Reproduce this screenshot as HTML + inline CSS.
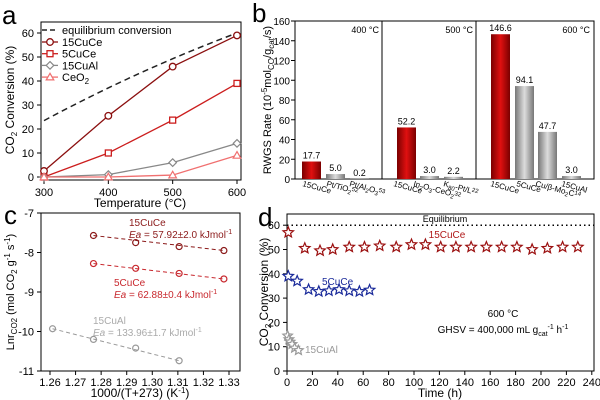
<!DOCTYPE html>
<html><head><meta charset="utf-8"><style>
body{margin:0;background:#fff;}
svg{display:block;font-family:"Liberation Sans",Arial,sans-serif;}
</style></head><body>
<svg id="s" width="600" height="400" viewBox="0 0 600 400" xmlns="http://www.w3.org/2000/svg"></svg>
<script>
const s=document.getElementById('s');let h='';
function T(x,y,t,sz,opt){opt=opt||{};h+=`<text x="${x}" y="${y}" font-size="${sz}" fill="${opt.c||'#000'}" text-anchor="${opt.a||'start'}" ${opt.tr?`transform="${opt.tr}"`:''} ${opt.w?'font-weight="bold"':''}>${t}</text>`;}
function L(x1,y1,x2,y2,c,w,d){h+=`<line x1="${x1}" y1="${y1}" x2="${x2}" y2="${y2}" stroke="${c||'#000'}" stroke-width="${w||1}" ${d?`stroke-dasharray="${d}"`:''}/>`;}
function star(x,y,r,c){let p=[];for(let i=0;i<10;i++){let a=-Math.PI/2+i*Math.PI/5,rr=i%2?r*0.45:r;p.push((x+rr*Math.cos(a)).toFixed(1)+','+(y+rr*Math.sin(a)).toFixed(1));}h+=`<polygon points="${p.join(' ')}" fill="#fff" stroke="${c}" stroke-width="1.2"/>`;}
// ===== Panel a =====
T(2,24,'a',26);
h+='<rect x="41" y="22" width="200" height="158" fill="none" stroke="#000" stroke-width="1"/>';
const ax=v=>44+(v-300)*193/300, ay=v=>177-v*2.4;
[0,10,20,30,40,50,60].forEach(v=>{L(37,ay(v),41,ay(v));T(34,ay(v)+4,v,11,{a:'end'});});
[300,400,500,600].forEach(v=>{L(ax(v),180,ax(v),184);T(ax(v),196,v,11,{a:'middle'});});
T(140,207,'Temperature (°C)',12,{a:'middle'});
T(14,100,'CO<tspan font-size="8" dy="3">2</tspan><tspan dy="-3"> Conversion (%)</tspan>',12,{a:'middle',tr:'rotate(-90 14 100)'});
h+=`<path d="M${ax(300)},${ay(23.5)} Q${ax(450)},${ay(45)} ${ax(600)},${ay(60)}" fill="none" stroke="#222" stroke-width="1.5" stroke-dasharray="6,4"/>`;
const A=[['#8b0f0f',[2.5,25.5,46,59],'c'],['#cc1e1e',[0,10,23.7,39],'s'],['#888',[0,1,6,14],'d'],['#f07070',[0,0,0.8,9],'t']];
A.forEach(([c,d,m])=>{let pts=d.map((v,i)=>[ax(300+100*i),ay(v)]);h+=`<polyline points="${pts.map(p=>p.join(',')).join(' ')}" fill="none" stroke="${c}" stroke-width="1.3"/>`;pts.forEach(p=>mk(p[0],p[1],m,c));});
function mk(x,y,m,c){if(m=='c')h+=`<circle cx="${x}" cy="${y}" r="3.3" fill="#fff" stroke="${c}" stroke-width="1.3"/>`;if(m=='s')h+=`<rect x="${x-3}" y="${y-3}" width="6" height="6" fill="#fff" stroke="${c}" stroke-width="1.3"/>`;if(m=='d')h+=`<polygon points="${x},${y-3.8} ${x+3.8},${y} ${x},${y+3.8} ${x-3.8},${y}" fill="#fff" stroke="${c}" stroke-width="1.2"/>`;if(m=='t')h+=`<polygon points="${x},${y-3.8} ${x+3.8},${y+2.8} ${x-3.8},${y+2.8}" fill="#fff" stroke="${c}" stroke-width="1.2"/>`;}
L(42,30,56,30,'#222',1.5,'5,3');T(62,34,'equilibrium conversion',11);
[['15CuCe','#8b0f0f','c'],['5CuCe','#cc1e1e','s'],['15CuAl','#888','d'],['CeO<tspan font-size="8" dy="3">2</tspan>','#f07070','t']].forEach(([t,c,m],i)=>{let y=42+i*11.7;L(42,y,58,y,c,1.3);mk(50,y,m,c);T(62,y+4,t,11);});
// ===== Panel b =====
T(252,22,'b',26);
h+='<rect x="295" y="21" width="299" height="158" fill="none" stroke="#000" stroke-width="1"/>';
L(382,21,382,179);L(476,21,476,179);
const by=v=>179-v*0.9875;
[0,20,40,60,80,100,120,140,160].forEach(v=>{L(291,by(v),295,by(v));T(290,by(v)+4,v,10,{a:'end'});});
T(271,100,'RWGS Rate (10<tspan font-size="8" dy="-4">-5</tspan><tspan dy="4">mol</tspan><tspan font-size="8" dy="3">CO</tspan><tspan dy="-3">/g</tspan><tspan font-size="8" dy="3">cat</tspan><tspan dy="-3">/s)</tspan>',11,{a:'middle',tr:'rotate(-90 271 100)'});
T(379,33,'400 °C',9,{a:'end'});T(473,33,'500 °C',9,{a:'end'});T(590,33,'600 °C',9,{a:'end'});
const B=[[302,17.7,1,'17.7'],[326,5,0,'5.0'],[350,0.2,0,'0.2'],[397,52.2,1,'52.2'],[420,3,0,'3.0'],[444,2.2,0,'2.2'],[491,146.6,1,'146.6'],[515,94.1,0,'94.1'],[538,47.7,0,'47.7'],[562,3,0,'3.0']];
h+='<defs><linearGradient id="gr" x1="0" x2="1"><stop offset="0" stop-color="#7a0000"/><stop offset="0.5" stop-color="#e01010"/><stop offset="1" stop-color="#7a0000"/></linearGradient><linearGradient id="gg" x1="0" x2="1"><stop offset="0" stop-color="#777"/><stop offset="0.5" stop-color="#ddd"/><stop offset="1" stop-color="#777"/></linearGradient></defs>';
B.forEach(([x,v,r,t])=>{h+=`<rect x="${x}" y="${by(v)}" width="19" height="${v*0.9875}" fill="url(#${r?'gr':'gg'})"/>`;T(x+9.5,by(v)-3,t,9,{a:'middle'});});
[[302,'15CuCe'],[326,'Pt/TiO<tspan font-size="6" dy="2">2</tspan><tspan font-size="6" dy="-4">52</tspan>'],[349,'Pt/Al<tspan font-size="6" dy="2">2</tspan><tspan dy="-2">O</tspan><tspan font-size="6" dy="2">3</tspan><tspan font-size="6" dy="-4">53</tspan>'],[393,'15CuCe'],[413,'In<tspan font-size="6" dy="2">2</tspan><tspan dy="-2">O</tspan><tspan font-size="6" dy="2">3</tspan><tspan dy="-2">-CeO</tspan><tspan font-size="6" dy="2">2</tspan><tspan font-size="6" dy="-4">32</tspan>'],[443,'K<tspan font-size="6" dy="2">80</tspan><tspan dy="-2">-Pt/L</tspan><tspan font-size="6" dy="-2">22</tspan>'],[490,'15CuCe'],[516,'5CuCe'],[535,'Cu/β-Mo<tspan font-size="6" dy="2">2</tspan><tspan dy="-2">C</tspan><tspan font-size="6" dy="-2">14</tspan>'],[561,'15CuAl']].forEach(([x,t])=>{T(x,186,t,8,{tr:`rotate(15 ${x} 186)`,a:'start'});});
// ===== Panel c =====
T(4,224,'c',26);
h+='<rect x="41" y="213" width="199" height="158" fill="none" stroke="#000" stroke-width="1"/>';
const cx=v=>50+(v-1.26)*179/0.07, cy=v=>213+(-7-v)*39.5;
[-7,-8,-9,-10,-11].forEach(v=>{L(37,cy(v),41,cy(v));T(34,cy(v)+4,v,11,{a:'end'});});
[1.26,1.27,1.28,1.29,1.30,1.31,1.32,1.33].forEach(v=>{L(cx(v),371,cx(v),375);T(cx(v),386,v.toFixed(2),11,{a:'middle'});});
T(140,397,'1000/(T+273) (K<tspan font-size="8" dy="-4">-1</tspan><tspan dy="4">)</tspan>',12,{a:'middle'});
T(14,292,'Lnr<tspan font-size="8" dy="3">CO2</tspan><tspan dy="-3"> (mol CO</tspan><tspan font-size="8" dy="3">2</tspan><tspan dy="-3"> g</tspan><tspan font-size="8" dy="-4">-1</tspan><tspan dy="4"> s</tspan><tspan font-size="8" dy="-4">-1</tspan><tspan dy="4">)</tspan>',11,{a:'middle',tr:'rotate(-90 14 292)'});
const C=[['#8b1a1a',[[1.277,-7.57],[1.2935,-7.75],[1.3105,-7.85],[1.328,-7.95]]],['#c8282e',[[1.277,-8.28],[1.2935,-8.4],[1.3105,-8.53],[1.328,-8.67]]],['#999',[[1.261,-9.93],[1.277,-10.2],[1.2935,-10.42],[1.3105,-10.74]]]];
C.forEach(([c,d])=>{let f=d[0],l=d[d.length-1];L(cx(f[0]),cy(f[1]),cx(l[0]),cy(l[1]),c,1,'4,3');d.forEach(p=>h+=`<circle cx="${cx(p[0])}" cy="${cy(p[1])}" r="3" fill="none" stroke="${c}" stroke-width="1.2"/>`);});
T(129,226,'15CuCe',10,{c:'#8b1a1a'});T(129,238,'<tspan font-style="italic">Ea</tspan> = 57.92±2.0 kJmol<tspan font-size="7" dy="-4">-1</tspan>',10,{c:'#8b1a1a'});
T(114,286,'5CuCe',10,{c:'#c8282e'});T(114,298,'<tspan font-style="italic">Ea</tspan> = 62.88±0.4 kJmol<tspan font-size="7" dy="-4">-1</tspan>',10,{c:'#c8282e'});
T(93,324,'15CuAl',10,{c:'#aaa'});T(93,336,'<tspan font-style="italic">Ea</tspan> = 133.96±1.7 kJmol<tspan font-size="7" dy="-4">-1</tspan>',10,{c:'#aaa'});
// ===== Panel d =====
T(258,226,'d',26);
h+='<rect x="287" y="214" width="307" height="157" fill="none" stroke="#000" stroke-width="1"/>';
const dx=v=>287+v*1.27, dy=v=>371-v*2.43;
[0,10,20,30,40,50,60].forEach(v=>{L(283,dy(v),287,dy(v));T(280,dy(v)+4,v,11,{a:'end'});});
for(let v=0;v<=240;v+=20){L(dx(v),371,dx(v),375);T(dx(v),386,v,11,{a:'middle'});}
T(440,397,'Time (h)',12,{a:'middle'});
T(268,292,'CO<tspan font-size="8" dy="3">2</tspan><tspan dy="-3"> Conversion (%)</tspan>',12,{a:'middle',tr:'rotate(-90 268 292)'});
L(287,dy(60),594,dy(60),'#000',1.5,'1.5,3');
T(445,222,'Equilibrium',9,{a:'middle'});
T(447,238,'15CuCe',10,{c:'#b01818',a:'middle'});
T(322,285,'5CuCe',10,{c:'#1a2a9a'});
T(305,353,'15CuAl',10,{c:'#999'});
T(503,317,'600 °C',10,{a:'middle'});
T(503,333,'GHSV = 400,000 mL g<tspan font-size="7" dy="3">cat</tspan><tspan font-size="7" dy="-7">-1</tspan><tspan dy="4"> h</tspan><tspan font-size="7" dy="-4">-1</tspan>',10,{a:'middle'});
[[1,57],[14,50.5],[26,49.5],[36,50],[49,51],[61,51],[73,51.5],[86,51],[98,52],[109,52],[121,51],[133,51],[145,51],[157,51],[169,51],[181,51],[193,50],[205,50.5],[217,51],[229,51]].forEach(p=>star(dx(p[0]),dy(p[1]),5.5,'#9b1010'));
[[1,39],[8,37],[17,33.5],[25,32.7],[33,33],[41,33.5],[49,33],[57,32.7],[65,33.3]].forEach(p=>star(dx(p[0]),dy(p[1]),5.5,'#1a2a9a'));
[[0.5,14.5],[1.5,13],[2.5,12],[4,11],[6,9.5],[9,8.5]].forEach(p=>star(dx(p[0]),dy(p[1]),5,'#999'));
s.innerHTML=h;
</script>
</body></html>
